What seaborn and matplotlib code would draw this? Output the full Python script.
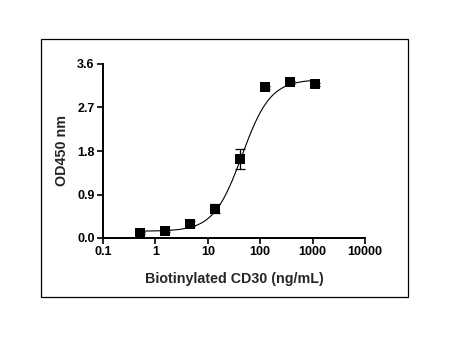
import numpy as np
import pandas as pd
import matplotlib
matplotlib.use('Agg')
import matplotlib.pyplot as plt
import seaborn as sns
from matplotlib.patches import Rectangle
from matplotlib.ticker import FixedLocator, NullLocator

# --- Data ---
conc = [0.508, 1.52, 4.57, 13.7, 41.2, 123.5, 370.4, 1111.1]   # ng/mL
od450 = [0.10, 0.14, 0.30, 0.61, 1.63, 3.12, 3.22, 3.18]
od_err = [0.02, 0.02, 0.05, 0.10, 0.21, 0.03, 0.03, 0.03]

# 4PL fit parameters (estimated from the drawn curve)
FIT_BOTTOM = 0.14
FIT_TOP = 3.28
FIT_EC50 = 45.0
FIT_HILL = 1.6

x_ticks = [0.1, 1, 10, 100, 1000, 10000]
x_tick_labels = ['0.1', '1', '10', '100', '1000', '10000']
y_ticks = [0.0, 0.9, 1.8, 2.7, 3.6]
y_tick_labels = ['0.0', '0.9', '1.8', '2.7', '3.6']


def four_pl(x, bottom, top, ec50, hill):
    return bottom + (top - bottom) / (1 + (ec50 / x) ** hill)


def main():
    sns.set_style('ticks')
    plt.rcParams['font.family'] = ['Liberation Sans', 'DejaVu Sans']
    plt.rcParams['font.weight'] = 'bold'

    df = pd.DataFrame({'conc': conc, 'od': od450, 'err': od_err})

    fig = plt.figure(figsize=(4.57, 3.51), dpi=100)
    # outer frame
    fig.patches.append(Rectangle((41 / 457, 1 - 297 / 351), 367 / 457, 258 / 351,
                                 transform=fig.transFigure, fill=False,
                                 edgecolor='black', linewidth=0.9))

    ax = fig.add_axes([103 / 457, 1 - 238 / 351, 262 / 457, 174 / 351])

    # fitted curve
    xs = np.logspace(np.log10(min(conc)), np.log10(max(conc)), 300)
    fit_df = pd.DataFrame({'conc': xs, 'od': four_pl(xs, FIT_BOTTOM, FIT_TOP, FIT_EC50, FIT_HILL)})
    sns.lineplot(data=fit_df, x='conc', y='od', ax=ax, color='black', linewidth=0.8)

    ax.errorbar(df['conc'], df['od'], yerr=df['err'], fmt='none', ecolor='black',
                elinewidth=0.9, capsize=3.5, capthick=0.9, zorder=3)
    sns.scatterplot(data=df, x='conc', y='od', ax=ax, marker='s', s=52,
                    color='black', edgecolor='black', linewidth=0, zorder=4)

    ax.set_xscale('log')
    ax.set_xlim(0.1, 10000)
    ax.set_ylim(0, 3.6)
    ax.xaxis.set_major_locator(FixedLocator(x_ticks))
    ax.xaxis.set_minor_locator(NullLocator())
    ax.set_xticklabels(x_tick_labels)
    ax.set_yticks(y_ticks)
    ax.set_yticklabels(y_tick_labels)

    for side in ['top', 'right']:
        ax.spines[side].set_visible(False)
    for side in ['left', 'bottom']:
        ax.spines[side].set_linewidth(1.4)
        ax.spines[side].set_color('black')
    ax.tick_params(axis='both', direction='out', length=4, width=1.2, colors='black',
                   labelsize=9, pad=2)
    for lab in ax.get_xticklabels() + ax.get_yticklabels():
        lab.set_fontweight('bold')

    ax.set_xlabel('Biotinylated CD30 (ng/mL)', fontsize=10.3, fontweight='bold', labelpad=10)
    ax.set_ylabel('OD450 nm', fontsize=10.3, fontweight='bold', labelpad=6)

    fig.savefig('out.png', dpi=100)


if __name__ == "__main__":
    main()
